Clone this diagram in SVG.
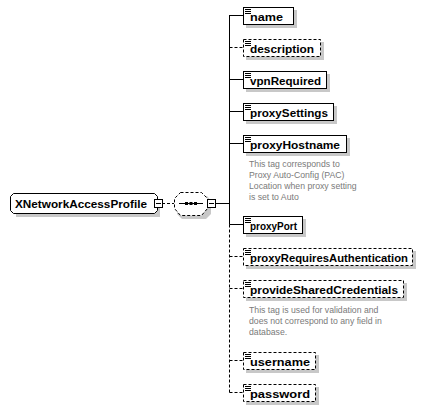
<svg xmlns="http://www.w3.org/2000/svg" width="434" height="411" viewBox="0 0 434 411">
<defs>
<style>
.bg{fill:#ffffff}
.box{fill:#ffffff;stroke:#000000;stroke-width:1}
.opt{stroke-dasharray:3,2}
.sh{fill:#c8c8c8}
.lbl{font-family:"Liberation Sans",Arial,sans-serif;font-weight:bold;font-size:11.8px;fill:#000000}
.cmt{font-family:"Liberation Sans",Arial,sans-serif;font-size:8.7px;fill:#7a7a7a}
.ln{stroke:#000000;stroke-width:1;fill:none}
.dl{stroke:#000000;stroke-width:1;fill:none;stroke-dasharray:3,2}
.ic{stroke:#000000;stroke-width:1}
</style>
<g id="icon"><path class="ic" d="M0,0.5h6M0,2.5h6M0,4.5h6"/></g>
</defs>
<rect class="bg" x="0" y="0" width="434" height="411"/>

<g id="connectors">
<path class="dl" d="M162,203.5H174"/>
<path class="ln" d="M216,203.5H229.5"/>
<path class="ln" d="M229.5,15V224.5"/>
<path class="dl" d="M229.5,224.5V392.5"/>
<path class="ln" d="M229.5,15.5H243"/>
<path class="dl" d="M229.5,47.5H243"/>
<path class="ln" d="M229.5,79.5H243"/>
<path class="ln" d="M229.5,111.5H243"/>
<path class="ln" d="M229.5,143.5H243"/>
<path class="ln" d="M229.5,224.5H243"/>
<path class="dl" d="M229.5,256.5H243"/>
<path class="dl" d="M229.5,288.5H243"/>
<path class="dl" d="M229.5,360.5H243"/>
<path class="dl" d="M229.5,392.5H243"/>
</g>

<g id="root">
<path class="sh" d="M16,199H160V217H16Z"/>
<path class="box" d="M13.5,193.5H154.5L157.5,196.5V210.5L154.5,213.5H13.5L10.5,210.5V196.5Z"/>
<text class="lbl" x="15" y="207.5" textLength="132" lengthAdjust="spacingAndGlyphs">XNetworkAccessProfile</text>
<rect class="box" x="154.5" y="199.5" width="8" height="8"/>
<path class="ln" d="M156,203.5h5"/>
</g>

<g id="sequence">
<path class="sh" d="M183,196H207L211,201V214L206,219H182L177,214V201Z"/>
<path class="box opt" d="M180.5,192.5H201.5L207.5,198.5V208.5L201.5,215.5H180.5L174.5,208.5V198.5Z"/>
<path class="ln" d="M179,203.5H203"/>
<rect x="185" y="202" width="3" height="3" fill="#000"/>
<rect x="189.5" y="202" width="3" height="3" fill="#000"/>
<rect x="194" y="202" width="3" height="3" fill="#000"/>
<rect class="box" x="207.5" y="199.5" width="8" height="8"/>
<path class="ln" d="M209,203.5h5"/>
</g>

<g id="name">
<rect class="sh" x="246" y="10" width="51" height="18"/>
<rect class="box" x="243.5" y="7.5" width="50" height="17"/>
<use href="#icon" x="245" y="9"/>
<text class="lbl" x="250" y="21" textLength="33" lengthAdjust="spacingAndGlyphs">name</text>
</g>

<g id="description">
<rect class="sh" x="246" y="42" width="78" height="18"/>
<rect class="box opt" x="243.5" y="39.5" width="77" height="17"/>
<use href="#icon" x="245" y="41"/>
<text class="lbl" x="250" y="53" textLength="64" lengthAdjust="spacingAndGlyphs">description</text>
</g>

<g id="vpnRequired">
<rect class="sh" x="246" y="74" width="84" height="18"/>
<rect class="box" x="243.5" y="71.5" width="83" height="17"/>
<use href="#icon" x="245" y="73"/>
<text class="lbl" x="250" y="85" textLength="71" lengthAdjust="spacingAndGlyphs">vpnRequired</text>
</g>

<g id="proxySettings">
<rect class="sh" x="246" y="106" width="91" height="18"/>
<rect class="box" x="243.5" y="103.5" width="90" height="17"/>
<use href="#icon" x="245" y="105"/>
<text class="lbl" x="250" y="117" textLength="78" lengthAdjust="spacingAndGlyphs">proxySettings</text>
</g>

<g id="proxyHostname">
<rect class="sh" x="246" y="138" width="104" height="18"/>
<rect class="box" x="243.5" y="135.5" width="103" height="17"/>
<use href="#icon" x="245" y="137"/>
<text class="lbl" x="250" y="149" textLength="90" lengthAdjust="spacingAndGlyphs">proxyHostname</text>
<text class="cmt" x="249" y="167">This tag corresponds to</text>
<text class="cmt" x="249" y="178">Proxy Auto-Config (PAC)</text>
<text class="cmt" x="249" y="189">Location when proxy setting</text>
<text class="cmt" x="249" y="200">is set to Auto</text>
</g>

<g id="proxyPort">
<rect class="sh" x="246" y="219" width="60" height="18"/>
<rect class="box" x="243.5" y="216.5" width="59" height="17"/>
<use href="#icon" x="245" y="218"/>
<text class="lbl" x="250" y="230" textLength="47" lengthAdjust="spacingAndGlyphs">proxyPort</text>
</g>

<g id="proxyRequiresAuthentication">
<rect class="sh" x="246" y="251" width="170" height="18"/>
<rect class="box opt" x="243.5" y="248.5" width="169" height="17"/>
<use href="#icon" x="245" y="250"/>
<text class="lbl" x="250" y="262" textLength="158" lengthAdjust="spacingAndGlyphs">proxyRequiresAuthentication</text>
</g>

<g id="provideSharedCredentials">
<rect class="sh" x="246" y="283" width="161" height="18"/>
<rect class="box opt" x="243.5" y="280.5" width="160" height="17"/>
<use href="#icon" x="245" y="282"/>
<text class="lbl" x="250" y="294" textLength="148" lengthAdjust="spacingAndGlyphs">provideSharedCredentials</text>
<text class="cmt" x="249" y="313">This tag is used for validation and</text>
<text class="cmt" x="249" y="324">does not correspond to any field in</text>
<text class="cmt" x="249" y="335">database.</text>
</g>

<g id="username">
<rect class="sh" x="246" y="355" width="73" height="18"/>
<rect class="box opt" x="243.5" y="352.5" width="72" height="17"/>
<use href="#icon" x="245" y="354"/>
<text class="lbl" x="250" y="366" textLength="60" lengthAdjust="spacingAndGlyphs">username</text>
</g>

<g id="password">
<rect class="sh" x="246" y="387" width="73" height="18"/>
<rect class="box opt" x="243.5" y="384.5" width="72" height="17"/>
<use href="#icon" x="245" y="386"/>
<text class="lbl" x="250" y="398" textLength="60" lengthAdjust="spacingAndGlyphs">password</text>
</g>
</svg>
